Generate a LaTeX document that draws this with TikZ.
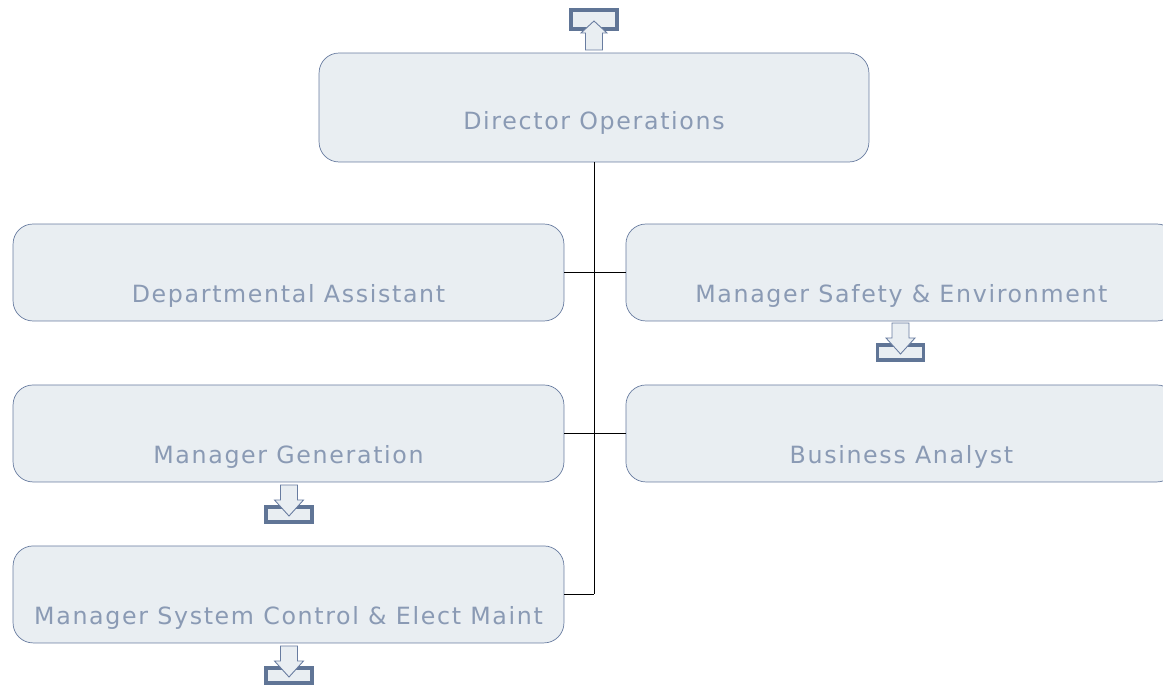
\documentclass[tikz,border=0pt]{standalone}
\usepackage{fontspec}
\setmainfont[LetterSpace=7]{DejaVu Sans}
\usetikzlibrary{positioning}
\definecolor{boxfill}{RGB}{233,238,242}
\definecolor{boxline}{RGB}{104,124,160}
\definecolor{boxtext}{RGB}{138,154,180}
\definecolor{trayline}{RGB}{96,117,150}

\begin{document}
\begin{tikzpicture}[
    x=0.02cm, y=-0.02cm,
    node distance=3.22cm,
    post/.style={rectangle, draw=boxline, fill=boxfill, rounded corners=0.4cm, minimum width=11.02cm, inner sep=0.2cm, text height=1.38cm, text depth=0.16cm, text=boxtext, font=\fontsize{13.5}{16}\selectfont},
    head/.style={post, minimum width=11cm, text height=1.34cm, text depth=0.44cm},
    link/.style={draw=black, line width=0.5pt},
    tray down/.pic={
        \draw[trayline, line width=2.2pt, fill=boxfill] (-23,22) rectangle (23,37);
        \draw[boxline, fill=boxfill, line width=0.5pt] (-8.5,0) -- (8.5,0) -- (8.5,15) -- (14.5,15) -- (0,31) -- (-14.5,15) -- (-8.5,15) -- cycle;
    },
    tray up/.pic={
        \draw[trayline, line width=2.2pt, fill=boxfill] (-23,-40) rectangle (23,-21);
        \draw[boxline, fill=boxfill, line width=0.5pt] (-8.5,0) -- (8.5,0) -- (8.5,-17) -- (13,-17) -- (0,-29) -- (-13,-17) -- (-8.5,-17) -- cycle;
    }
]
    \useasboundingbox (0,0) rectangle (1163,688);
    \clip (0,0) rectangle (1163,688);

    \node[head] (director) at (594,107.5) {Director Operations};
    \node[post] (assistant) at (288.5,272.5) {Departmental Assistant};
    \node[post, right of=assistant, node distance=12.26cm] (safety) {Manager Safety \& Environment};
    \node[post, below of=assistant] (generation) {Manager Generation};
    \node[post, below of=safety] (analyst) {Business Analyst};
    \node[post, below of=generation] (control) {Manager System Control \& Elect Maint};

    \coordinate (trunk) at (director.south |- control.east);
    \draw[link] (director.south) -- (trunk);
    \draw[link] (assistant.east) -- (safety.west);
    \draw[link] (generation.east) -- (analyst.west);
    \draw[link] (control.east) -- (trunk);

    \pic at (594,50) {tray up};
    \pic at (900.5,323) {tray down};
    \pic at (289,485) {tray down};
    \pic at (289,646) {tray down};
\end{tikzpicture}
\end{document}
